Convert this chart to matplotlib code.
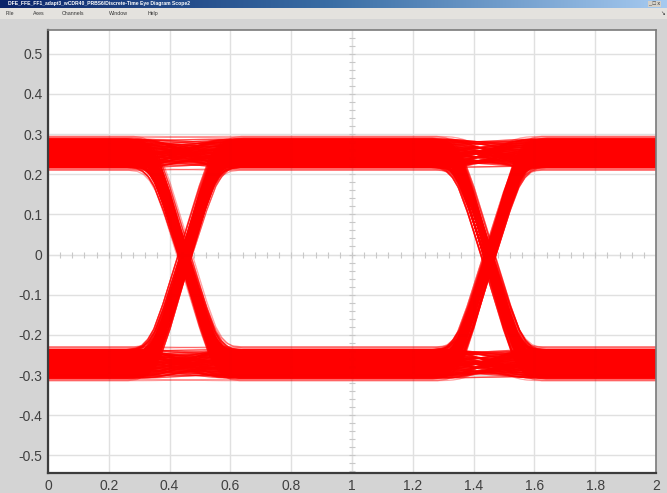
import numpy as np
import matplotlib
matplotlib.use("Agg")
import matplotlib.pyplot as plt
from matplotlib.collections import LineCollection
from matplotlib.patches import Rectangle

plt.rcParams["font.family"] = ["Liberation Sans", "DejaVu Sans"]

# ── Eye diagram description ──────────────────────────────────────────────────
LEVELS     = {1: 0.252, 0: -0.272}        # logic high / low voltage
CROSSINGS  = [0.45, 1.45]                 # symbol boundaries inside the window
# one transition edge: time relative to crossing vs fraction of the swing
EDGE_T = [-0.18, -0.15, -0.13, -0.11, -0.09, -0.06, -0.03, 0.0,
          0.03, 0.06, 0.09, 0.11, 0.13, 0.15, 0.18]
EDGE_F = [0.0, 0.006, 0.02, 0.05, 0.1, 0.22, 0.36, 0.5,
          0.64, 0.78, 0.9, 0.95, 0.98, 0.994, 1.0]
# bit before, between and after the two crossings
PATTERNS = [(0, 0, 0), (0, 0, 1), (0, 1, 0), (0, 1, 1),
            (1, 0, 0), (1, 0, 1), (1, 1, 0), (1, 1, 1)]
# residual level noise per symbol and edge timing jitter
OFFSETS = [-0.035, -0.032, -0.029, -0.026, -0.023, -0.020, -0.017, -0.014,
           -0.011, -0.008, -0.005, -0.002, 0.0, 0.002, 0.005, 0.008, 0.011,
           0.014, 0.017, 0.020, 0.023, 0.026, 0.029, 0.032, 0.035]
TAIL_OFFSETS = [-0.042, -0.039, 0.039, 0.042]
JITTER = [-0.012, -0.006, 0.0, 0.006, 0.012, 0.003, -0.003, 0.009, -0.009]

XLIM = (0, 2)
YLIM = (-0.544, 0.559)
XTICKS = [0, 0.2, 0.4, 0.6, 0.8, 1, 1.2, 1.4, 1.6, 1.8, 2]
YTICKS = [-0.5, -0.4, -0.3, -0.2, -0.1, 0, 0.1, 0.2, 0.3, 0.4, 0.5]

WINDOW_TITLE = "DFE_FFE_FF1_adapt3_wCDR40_PRBS6/Discrete-Time Eye Diagram Scope2"
MENU_ITEMS = ["File", "Axes", "Channels", "Window", "Help"]

W, H = 667, 493
fig = plt.figure(figsize=(W / 100, H / 100), dpi=100, facecolor="#d4d4d4")

# window chrome: title bar and menu bar
title_bar = fig.add_axes([0, 1 - 8 / H, 1, 8 / H])
title_bar.set_axis_off()
title_bar.imshow(np.linspace(0, 1, 256)[None, :], aspect="auto",
                 cmap=matplotlib.colors.LinearSegmentedColormap.from_list(
                     "tb", ["#0a246a", "#3a6ea5", "#a6caf0"]),
                 extent=(0, 1, 0, 1))
title_bar.set_xlim(0, 1)
title_bar.set_ylim(0, 1)
title_bar.text(0.012, 0.5, WINDOW_TITLE, color="white", fontsize=3.6,
               fontweight="bold", va="center", ha="left")
title_bar.text(0.99, 0.5, "_ \u25a1 x", color="#333333", fontsize=4,
               va="center", ha="right",
               bbox=dict(fc="#d4d0c8", ec="none", pad=0.4))
fig.patches.append(Rectangle((0, 1 - 19 / H), 1, 11 / H, transform=fig.transFigure,
                             fc="#e4e2de", ec="none", zorder=0))
mx = 0.008
for item in MENU_ITEMS:
    fig.text(mx, 1 - 13.5 / H, item, fontsize=3.8, color="#333333", va="center")
    mx += 0.012 + 0.0075 * len(item)
fig.text(0.997, 1 - 13.5 / H, "\u2198", fontsize=4, color="#333333",
         va="center", ha="right")

# plot area
L, R, T, B = 48, 656, 30, 473
ax = fig.add_axes([L / W, 1 - B / H, (R - L) / W, (B - T) / H])
ax.set_facecolor("white")
ax.set_xlim(*XLIM)
ax.set_ylim(*YLIM)
ax.set_xticks(XTICKS)
ax.set_yticks(YTICKS)
ax.set_xticklabels([f"{v:g}" for v in XTICKS])
ax.set_yticklabels([f"{v:g}" for v in YTICKS])
ax.tick_params(length=0, labelsize=10, labelcolor="#404040", pad=4)
ax.grid(True, color="#e0e0e0", lw=1.0)
ax.set_axisbelow(True)
for side, sp in ax.spines.items():
    sp.set_color("#3c3c3c" if side in ("left", "bottom") else "#7a7a7a")
    sp.set_linewidth(1.6 if side in ("left", "bottom") else 1.2)

# centre crosshair with minor divisions
ax.axhline(0, color="#d4d4d4", lw=0.8, zorder=0.5)
ax.axvline(1, color="#d4d4d4", lw=0.8, zorder=0.5)
hx = np.arange(0.04, 2.0, 0.04)
ax.plot(hx, np.zeros_like(hx), ls="none", marker="|", ms=5,
        mew=0.8, color="#c8c8c8", zorder=0.6)
vy = np.arange(-0.54, 0.55, 0.02)
ax.plot(np.ones_like(vy), vy, ls="none", marker="_", ms=5,
        mew=0.8, color="#c8c8c8", zorder=0.6)


def build_traces(offsets, shifts):
    """One polyline per bit pattern / noise draw across the 2-symbol window."""
    edge_t = np.array(EDGE_T)
    edge_f = np.array(EDGE_F)
    n = len(offsets)
    out = []
    for bits in PATTERNS:
        for k in range(n):
            for shift in shifts:
                offs = (offsets[k], offsets[(k * 7 + shift) % n],
                        offsets[(k * 11 + shift + 2) % n])
                vals = [LEVELS[b] + o for b, o in zip(bits, offs)]
                jit = JITTER[(k + shift) % len(JITTER)]
                jit2 = JITTER[(k * 3 + shift) % len(JITTER)]
                xs = [XLIM[0]]
                ys = [vals[0]]
                for c, j, (a, b) in zip(CROSSINGS, (jit, jit2),
                                        [(vals[0], vals[1]), (vals[1], vals[2])]):
                    xs.extend(c + j + edge_t)
                    ys.extend(a + (b - a) * edge_f)
                xs.append(XLIM[1])
                ys.append(vals[2])
                out.append(np.column_stack([xs, ys]))
    return out


ax.add_collection(LineCollection(build_traces(TAIL_OFFSETS, (1,)),
                                 colors="#ff0000", linewidths=0.9,
                                 alpha=0.2, zorder=2))
ax.add_collection(LineCollection(build_traces(OFFSETS, (3, 8, 13)),
                                 colors="#ff0000", linewidths=1.0,
                                 alpha=0.45, zorder=2))

fig.savefig("out.png", dpi=100, facecolor=fig.get_facecolor())
